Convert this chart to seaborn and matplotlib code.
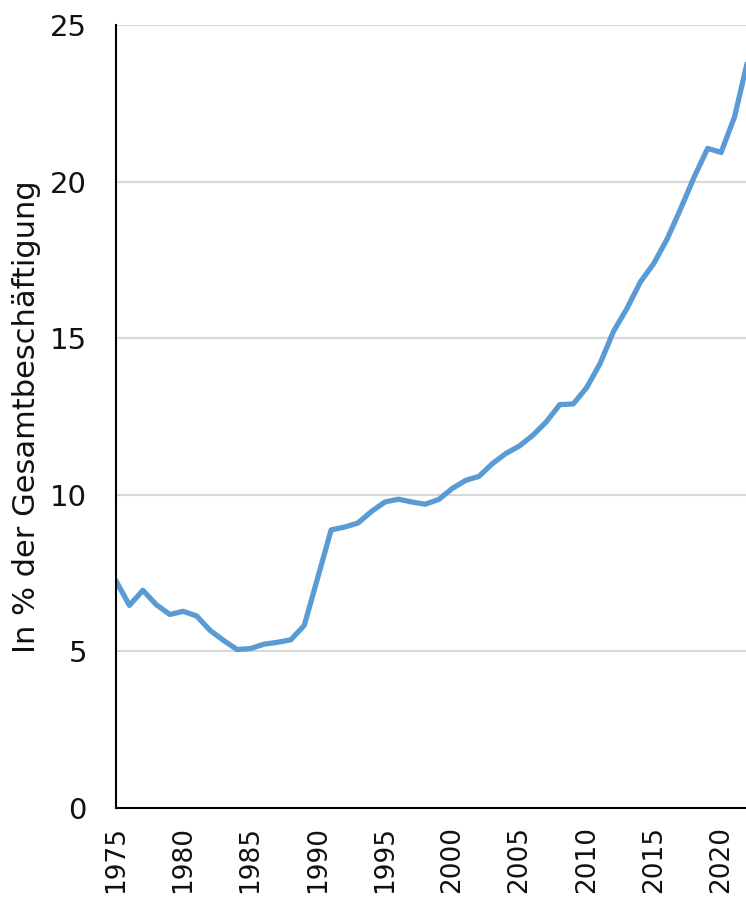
import matplotlib
matplotlib.use("Agg")
import matplotlib.pyplot as plt
import seaborn as sns
import pandas as pd

years = list(range(1975, 2023))
values = [7.25, 6.47, 6.95, 6.49, 6.18, 6.28, 6.13, 5.67, 5.35, 5.06,
          5.09, 5.23, 5.29, 5.37, 5.83, 7.35, 8.88, 8.97, 9.10, 9.47,
          9.77, 9.86, 9.77, 9.70, 9.85, 10.20, 10.46, 10.59, 11.00, 11.32,
          11.56, 11.90, 12.33, 12.88, 12.90, 13.42, 14.19, 15.22, 15.95, 16.80,
          17.39, 18.18, 19.14, 20.15, 21.06, 20.93, 22.07, 23.90]
x_ticks = list(range(1975, 2021, 5))
y_ticks = [0, 5, 10, 15, 20, 25]
y_label = "In % der Gesamtbeschäftigung"

df = pd.DataFrame({"Jahr": years, "Wert": values})

sns.set_style("white")
plt.rcParams["font.family"] = ["DejaVu Sans"]

fig = plt.figure(figsize=(7.46, 8.99), dpi=100)
ax = fig.add_axes([116 / 746, 91 / 899, 632 / 746, (808 - 25) / 899])

sns.lineplot(data=df, x="Jahr", y="Wert", ax=ax, color="#5B9BD5",
             linewidth=3.8, clip_on=True)

ax.set_xlim(1975, 2022)
ax.set_ylim(0, 25)
ax.set_xticks(x_ticks)
ax.set_xticklabels([str(t) for t in x_ticks], rotation=90)
ax.set_yticks(y_ticks)
ax.yaxis.grid(True, color="#d9d9d9", linewidth=1.5)
ax.set_axisbelow(True)

for s in ["top", "right"]:
    ax.spines[s].set_visible(False)
for s in ["left", "bottom"]:
    ax.spines[s].set_color("black")
    ax.spines[s].set_linewidth(1.5)

ax.tick_params(axis="both", direction="in", length=8, width=1.5,
               color="black", labelcolor="#111111")
ax.tick_params(axis="y", pad=21, labelsize=21)
ax.tick_params(axis="x", pad=13, labelsize=19)

ax.set_xlabel("")
ax.set_ylabel(y_label, fontsize=22, color="#111111", labelpad=6)

fig.savefig("out.png", dpi=100)
